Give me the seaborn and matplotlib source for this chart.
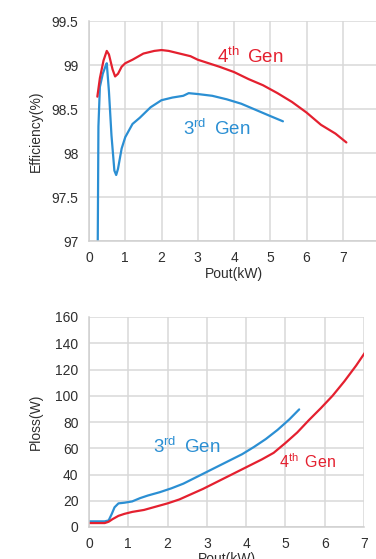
import matplotlib
matplotlib.use("Agg")
import matplotlib.pyplot as plt
import seaborn as sns
import pandas as pd

# ---- data ----
eff4_x = [0.23, 0.3, 0.4, 0.49, 0.55, 0.65, 0.72, 0.8, 0.9, 1.0, 1.2, 1.5, 1.8, 2.0, 2.2, 2.5, 2.8, 3.0, 3.3, 3.6, 4.0, 4.4, 4.8, 5.2, 5.6, 6.0, 6.4, 6.8, 7.1]
eff4_y = [98.64, 98.85, 99.05, 99.16, 99.12, 98.95, 98.87, 98.9, 98.98, 99.02, 99.06, 99.13, 99.16, 99.17, 99.16, 99.13, 99.1, 99.06, 99.02, 98.98, 98.92, 98.84, 98.77, 98.68, 98.58, 98.46, 98.32, 98.22, 98.12]

eff3_x = [0.24, 0.26, 0.3, 0.38, 0.45, 0.49, 0.55, 0.62, 0.7, 0.75, 0.8, 0.9, 1.0, 1.2, 1.4, 1.7, 2.0, 2.3, 2.6, 2.75, 3.0, 3.4, 3.8, 4.2, 4.6, 5.0, 5.35]
eff3_y = [96.9, 98.3, 98.75, 98.9, 98.98, 99.02, 98.7, 98.2, 97.8, 97.75, 97.82, 98.05, 98.18, 98.33, 98.4, 98.52, 98.6, 98.63, 98.65, 98.68, 98.67, 98.65, 98.61, 98.56, 98.49, 98.42, 98.36]

loss3_x = [0, 0.2, 0.4, 0.5, 0.58, 0.65, 0.75, 0.9, 1.1, 1.3, 1.5, 1.8, 2.1, 2.4, 2.7, 3.0, 3.3, 3.6, 3.9, 4.2, 4.5, 4.8, 5.1, 5.35]
loss3_y = [4.3, 4.3, 4.3, 5, 10, 15, 18, 18.5, 19.5, 22, 24, 26.5, 29.5, 33, 37.5, 42, 46.5, 51, 55.5, 61, 67, 74, 82, 89.6]

loss4_x = [0, 0.2, 0.4, 0.5, 0.6, 0.75, 0.9, 1.1, 1.4, 1.7, 2.0, 2.3, 2.6, 2.9, 3.2, 3.5, 3.8, 4.1, 4.4, 4.7, 5.0, 5.3, 5.6, 5.9, 6.2, 6.5, 6.8, 7.05]
loss4_y = [3, 3, 3, 4, 6, 8.5, 10, 11.5, 13, 15.5, 18, 21, 25, 29, 33.5, 38, 42.5, 47, 51.5, 56.5, 64, 72, 81.5, 90.5, 100, 111, 123, 134]

gens = ["3rd Gen", "4th Gen"]
eff_ticks = [97, 97.5, 98, 98.5, 99, 99.5]
eff_tick_labels = ["97", "97.5", "98", "98.5", "99", "99.5"]
loss_ticks = [0, 20, 40, 60, 80, 100, 120, 140, 160]
top_xticks = [0, 1, 2, 3, 4, 5, 6, 7, 8]
bot_xticks = [0, 1, 2, 3, 4, 5, 6, 7]

RED = "#e4202f"
BLUE = "#2b8fd3"
palette = {"3rd Gen": BLUE, "4th Gen": RED}

df_eff = pd.concat([
    pd.DataFrame({"Pout": eff3_x, "val": eff3_y, "gen": gens[0]}),
    pd.DataFrame({"Pout": eff4_x, "val": eff4_y, "gen": gens[1]}),
])
df_loss = pd.concat([
    pd.DataFrame({"Pout": loss3_x, "val": loss3_y, "gen": gens[0]}),
    pd.DataFrame({"Pout": loss4_x, "val": loss4_y, "gen": gens[1]}),
])

sns.set_style("whitegrid")
plt.rcParams["font.family"] = ["Liberation Sans", "DejaVu Sans"]
plt.rcParams["mathtext.fontset"] = "custom"
plt.rcParams["mathtext.rm"] = "Liberation Sans"

fig = plt.figure(figsize=(3.76, 5.59), dpi=100)
ax1 = fig.add_axes([89/376, 1-241/559, 290/376, 220/559])
ax2 = fig.add_axes([89/376, 1-527/559, 275/376, 210/559])

TXT = "#2e2e2e"
GRID = "#d9d9d9"

for ax, df in ((ax1, df_eff), (ax2, df_loss)):
    sns.lineplot(data=df, x="Pout", y="val", hue="gen", palette=palette, ax=ax,
                 legend=False, sort=False, estimator=None, linewidth=1.6)
    ax.grid(True, color=GRID, linewidth=1.1)
    for s in ("top", "right"):
        ax.spines[s].set_visible(False)
    for s in ("left", "bottom"):
        ax.spines[s].set_color("#cfcfcf")
        ax.spines[s].set_linewidth(1.1)
    ax.tick_params(length=0, labelsize=10, labelcolor=TXT, pad=7.5)
    ax.set_xlabel("Pout(kW)", fontsize=10, color=TXT)
    ax.xaxis.set_label_coords(0.5, -0.118)

ax1.set_xlim(0, 8)
ax1.set_ylim(97, 99.5)
ax1.set_xticks(top_xticks)
ax1.set_yticks(eff_ticks)
ax1.set_yticklabels(eff_tick_labels)
ax1.set_ylabel("Efficiency(%)", fontsize=10, color=TXT)
ax1.yaxis.set_label_coords(-0.159, 0.5)

ax2.set_xlim(0, 7)
ax2.set_ylim(0, 160)
ax2.set_xticks(bot_xticks)
ax2.set_yticks(loss_ticks)
ax2.set_ylabel("Ploss(W)", fontsize=10, color=TXT)
ax2.yaxis.set_label_coords(-0.167, 0.5)

ax1.text(3.53, 99.02, r"$\mathregular{4^{th}}\,$ Gen", color=RED, fontsize=13.5, va="baseline")
ax1.text(2.58, 98.2, r"$\mathregular{3^{rd}}\,$ Gen", color=BLUE, fontsize=13.5, va="baseline")
ax2.text(1.64, 56.2, r"$\mathregular{3^{rd}}\,$ Gen", color=BLUE, fontsize=13.5, va="baseline")
ax2.text(4.84, 44.8, r"$\mathregular{4^{th}}\,$ Gen", color=RED, fontsize=11.5, va="baseline")

fig.savefig("out.png", dpi=100)
